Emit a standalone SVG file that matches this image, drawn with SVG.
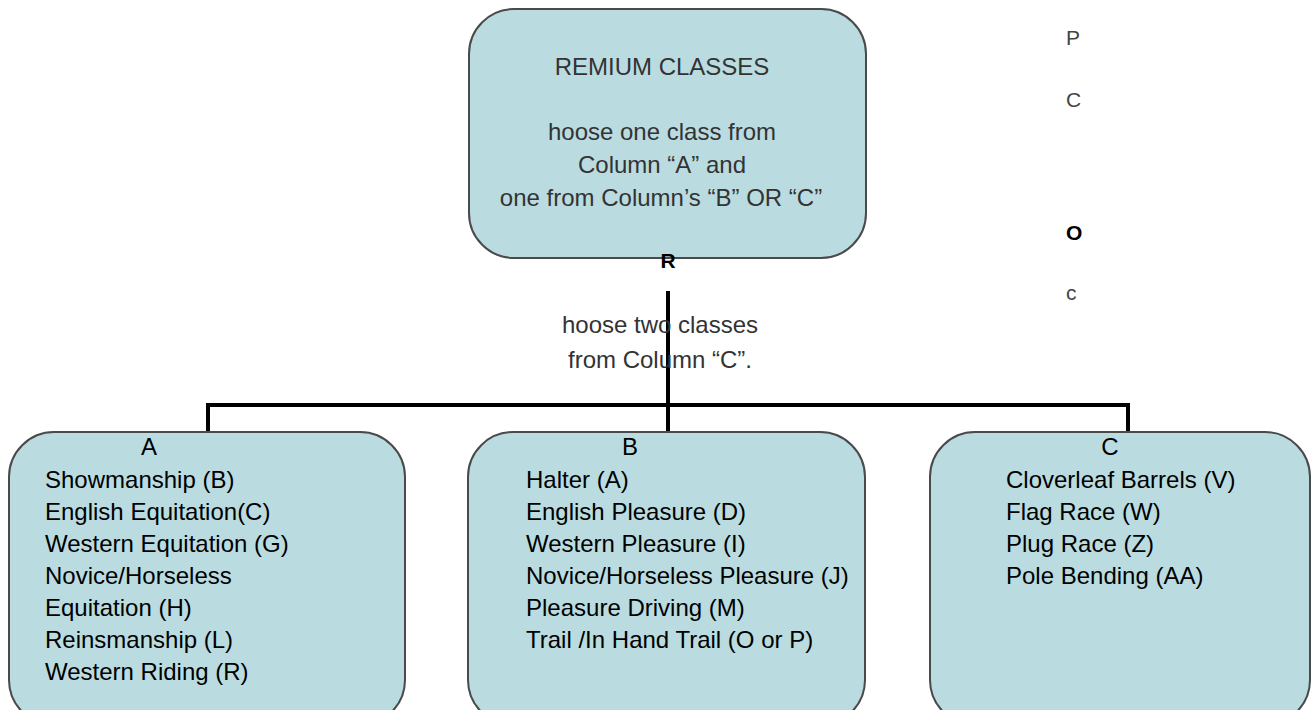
<svg xmlns="http://www.w3.org/2000/svg" width="1313" height="710" viewBox="0 0 1313 710">
<style>
.box{fill:#badce0;stroke:#4a4a4a;stroke-width:2}
.t{font-family:"Liberation Sans",Arial,sans-serif;font-size:24px;fill:#000}
.g{font-family:"Liberation Sans",Arial,sans-serif;font-size:24px;fill:#333}
.s{font-family:"Liberation Sans",Arial,sans-serif;font-size:21px;fill:#444}
.c{text-anchor:middle}
.conn{fill:none;stroke:#000;stroke-width:4}
</style>
<rect width="1313" height="710" fill="#fff"/>
<g id="top">
<rect class="box" x="469" y="9" width="397" height="249" rx="45"/>
<text class="g c" x="662" y="75">REMIUM CLASSES</text>
<text class="g c" x="662" y="140">hoose one class from</text>
<text class="g c" x="662" y="173">Column “A” and</text>
<text class="g c" x="661" y="206">one from Column’s “B” OR “C”</text>
</g>
<g id="connectors">
<path class="conn" d="M668 291V432M208 432V405H1128V432"/>
</g>
<g id="note">
<text class="s c" x="668" y="268" style="font-weight:bold;fill:#000">R</text>
<text class="g c" x="660" y="333">hoose two classes</text>
<text class="g c" x="660" y="368">from Column “C”.</text>
</g>
<g id="side">
<text class="s" x="1066" y="45">P</text>
<text class="s" x="1066" y="107">C</text>
<text class="s" x="1066" y="240" style="font-weight:bold;fill:#000">O</text>
<text class="s" x="1066" y="300">c</text>
</g>
<g id="colA">
<rect class="box" x="9" y="432" width="396" height="293" rx="45"/>
<text class="t c" x="149" y="455">A</text>
<text class="t" x="45" y="488">Showmanship (B)</text>
<text class="t" x="45" y="520">English Equitation(C)</text>
<text class="t" x="45" y="552">Western Equitation (G)</text>
<text class="t" x="45" y="584">Novice/Horseless</text>
<text class="t" x="45" y="616">Equitation (H)</text>
<text class="t" x="45" y="648">Reinsmanship (L)</text>
<text class="t" x="45" y="680">Western Riding (R)</text>
</g>
<g id="colB">
<rect class="box" x="468" y="432" width="397" height="293" rx="45"/>
<text class="t c" x="630" y="455">B</text>
<text class="t" x="526" y="488">Halter (A)</text>
<text class="t" x="526" y="520">English Pleasure (D)</text>
<text class="t" x="526" y="552">Western Pleasure (I)</text>
<text class="t" x="526" y="584">Novice/Horseless Pleasure (J)</text>
<text class="t" x="526" y="616">Pleasure Driving (M)</text>
<text class="t" x="526" y="648">Trail /In Hand Trail (O or P)</text>
</g>
<g id="colC">
<rect class="box" x="930" y="432" width="380" height="293" rx="45"/>
<text class="t c" x="1110" y="455">C</text>
<text class="t" x="1006" y="488">Cloverleaf Barrels (V)</text>
<text class="t" x="1006" y="520">Flag Race (W)</text>
<text class="t" x="1006" y="552">Plug Race (Z)</text>
<text class="t" x="1006" y="584">Pole Bending (AA)</text>
</g>
</svg>
